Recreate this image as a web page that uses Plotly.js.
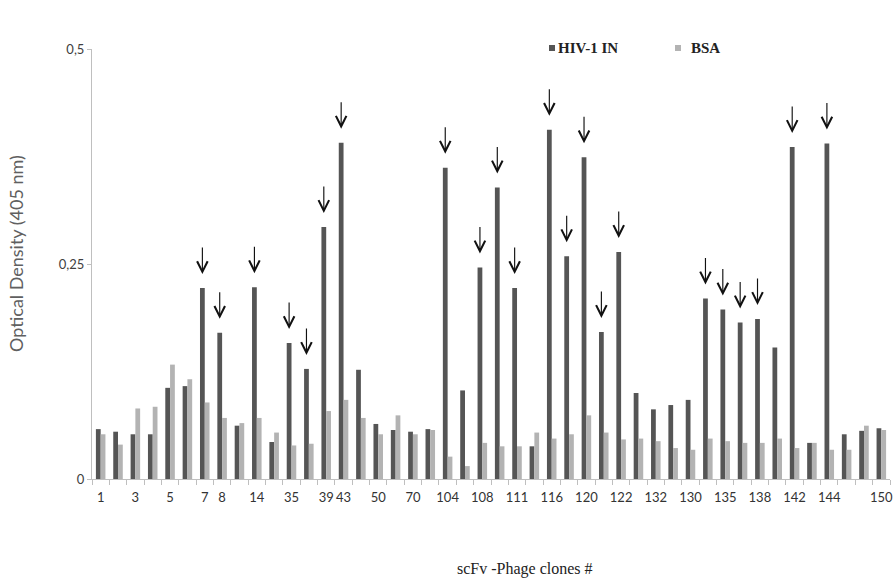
<!DOCTYPE html>
<html>
<head>
<meta charset="utf-8">
<script src="https://cdn.plot.ly/plotly-3.0.1.min.js"></script>
<style>
  html, body { margin: 0; padding: 0; background: #ffffff; }
  #chart { width: 896px; height: 582px; }
</style>
</head>
<body>
<div id="chart"></div>
<script>
// Clone labels along the x axis (blank = clone not labelled)
const cloneLabels = [
  "1", "", "3", "", "5", "", "7", "8", "", "14",
  "", "35", "", "39", "43", "", "50", "", "70", "",
  "104", "", "108", "", "111", "", "116", "", "120", "",
  "122", "", "132", "", "130", "", "135", "", "138", "",
  "142", "", "144", "", "", "150"
];

// Optical density at 405 nm for each clone
const hivIN = [
  0.058, 0.055, 0.052, 0.052, 0.106, 0.108, 0.222, 0.170, 0.062, 0.223,
  0.043, 0.158, 0.128, 0.293, 0.391, 0.127, 0.064, 0.057, 0.055, 0.058,
  0.362, 0.103, 0.246, 0.339, 0.222, 0.038, 0.406, 0.259, 0.374, 0.171,
  0.264, 0.100, 0.081, 0.086, 0.092, 0.210, 0.197, 0.182, 0.186, 0.153,
  0.386, 0.042, 0.390, 0.052, 0.056, 0.059
];
const bsa = [
  0.052, 0.040, 0.082, 0.084, 0.133, 0.116, 0.089, 0.071, 0.065, 0.071,
  0.054, 0.039, 0.041, 0.079, 0.092, 0.071, 0.052, 0.074, 0.052, 0.057,
  0.026, 0.015, 0.042, 0.038, 0.038, 0.054, 0.047, 0.052, 0.074, 0.054,
  0.046, 0.047, 0.044, 0.036, 0.034, 0.047, 0.044, 0.042, 0.042, 0.047,
  0.036, 0.042, 0.034, 0.034, 0.062, 0.057
];

// Clones flagged as positive binders (marked with a down arrow)
const positiveClones = [6, 7, 9, 11, 12, 13, 14, 20, 22, 23, 24, 26, 27, 28, 29, 30, 35, 36, 37, 38, 40, 42];

const seriesNames = ["HIV-1 IN", "BSA"];
const yTickVals = [0, 0.25, 0.5];
const yTickText = ["0", "0,25", "0,5"];
const xTitle = "scFv -Phage clones #";
const yTitle = "Optical Density (405 nm)";

const DARK = "#555555";
const LIGHT = "#b3b3b3";
const AXIS = "#bfbfbf";
const BARGAP = 0.45;

const xIdx = cloneLabels.map((_, i) => i);
const tickIdx = xIdx.filter(i => cloneLabels[i] !== "");

const traces = [
  { type: "bar", name: seriesNames[0], x: xIdx, y: hivIN,
    marker: { color: DARK }, showlegend: false, hoverinfo: "x+y" },
  { type: "bar", name: seriesNames[1], x: xIdx, y: bsa,
    marker: { color: LIGHT }, showlegend: false, hoverinfo: "x+y" }
];

// The HIV-1 IN bar sits in the left half of each group
const darkOffset = -(1 - BARGAP) / 4;

const arrows = positiveClones.map(i => ({
  x: i + darkOffset, y: hivIN[i], xref: "x", yref: "y",
  text: "", showarrow: true, ax: 0, ay: -42,
  arrowhead: 5, arrowsize: 1.8, arrowwidth: 1.15, arrowcolor: "#111111",
  standoff: 14
}));

// Axis titles placed in paper space
const titles = [
  { x: (525 - 92) / 798, y: (479 - 569) / 430, xref: "paper", yref: "paper",
    xanchor: "center", yanchor: "middle", showarrow: false, text: xTitle,
    font: { family: "Liberation Serif, Times New Roman, serif", size: 16, color: "#222222" } },
  { x: (16 - 92) / 798, y: (479 - 254) / 430, xref: "paper", yref: "paper",
    xanchor: "center", yanchor: "middle", showarrow: false, text: yTitle, textangle: -90,
    font: { family: "Lato, Carlito, sans-serif", size: 18, color: "#606060" } }
];

// Legend drawn as text labels with small square swatches
const legendFont = { family: "Liberation Serif, Times New Roman, serif", size: 15, color: "#222222" };
const legendLabels = [
  { x: (556 - 92) / 798, y: (479 - 48) / 430, xref: "paper", yref: "paper",
    xanchor: "left", yanchor: "middle", showarrow: false,
    text: "<b>" + seriesNames[0] + "</b>", font: legendFont },
  { x: (689 - 92) / 798, y: (479 - 48) / 430, xref: "paper", yref: "paper",
    xanchor: "left", yanchor: "middle", showarrow: false,
    text: "<b>" + seriesNames[1] + "</b>", font: legendFont }
];
const legendSwatches = [
  { type: "rect", xref: "paper", yref: "paper",
    x0: (549 - 92) / 798, x1: (555 - 92) / 798,
    y0: (479 - 51) / 430, y1: (479 - 45) / 430,
    fillcolor: DARK, line: { width: 0 } },
  { type: "rect", xref: "paper", yref: "paper",
    x0: (675 - 92) / 798, x1: (681 - 92) / 798,
    y0: (479 - 51) / 430, y1: (479 - 45) / 430,
    fillcolor: LIGHT, line: { width: 0 } }
];

const layout = {
  width: 896, height: 582,
  margin: { l: 92, r: 6, t: 49, b: 103 },
  paper_bgcolor: "#ffffff", plot_bgcolor: "#ffffff",
  barmode: "group", bargap: BARGAP, bargroupgap: 0,
  showlegend: false,
  xaxis: {
    range: [-0.5, cloneLabels.length - 0.5],
    tickmode: "array", tickvals: tickIdx, ticktext: tickIdx.map(i => cloneLabels[i]),
    ticks: "", showgrid: false, zeroline: false,
    showline: true, linecolor: AXIS, linewidth: 1,
    ticklabelstandoff: 6,
    minor: { tickmode: "linear", tick0: -0.5, dtick: 1, ticks: "outside",
             ticklen: 5, tickcolor: AXIS, tickwidth: 1, showgrid: false },
    tickfont: { family: "Lato, Carlito, sans-serif", size: 13, color: "#333333" },
    automargin: false, fixedrange: true
  },
  yaxis: {
    range: [0, 0.5],
    tickmode: "array", tickvals: yTickVals, ticktext: yTickText,
    ticks: "outside", ticklen: 4, tickcolor: AXIS, tickwidth: 1,
    showgrid: false, zeroline: false,
    showline: true, linecolor: AXIS, linewidth: 1,
    tickfont: { family: "Lato, Carlito, sans-serif", size: 13, color: "#404040" },
    automargin: false, fixedrange: true
  },
  annotations: arrows.concat(titles, legendLabels),
  shapes: legendSwatches
};

Plotly.newPlot("chart", traces, layout, { displayModeBar: false, staticPlot: true });
</script>
</body>
</html>
